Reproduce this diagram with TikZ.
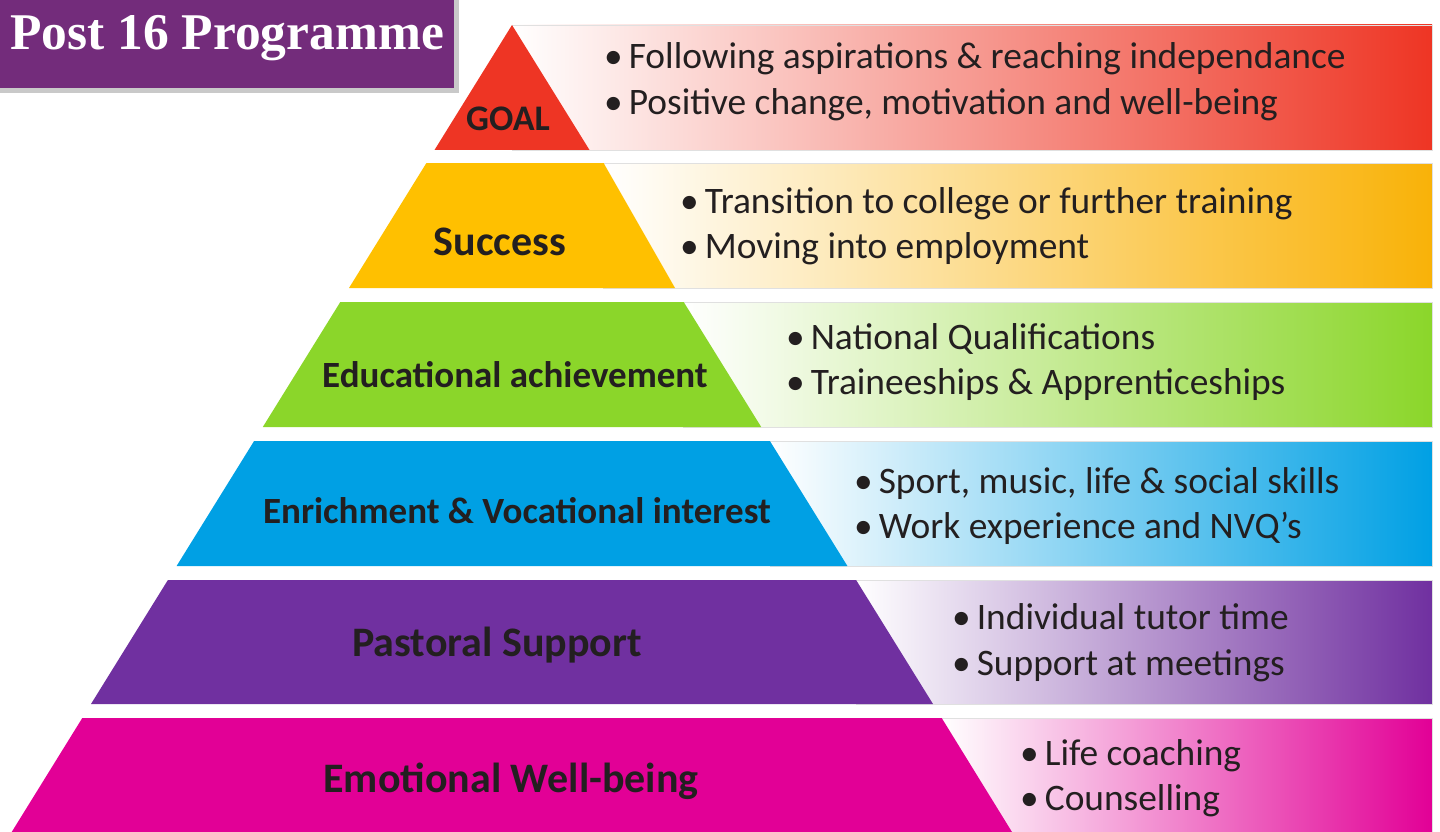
\documentclass[tikz,border=0pt]{standalone}
\usepackage{fontspec}
\setmainfont{Carlito}
\newfontfamily\titlefont{Liberation Serif}
\definecolor{goalred}{HTML}{EE3524}
\definecolor{succyellow}{HTML}{FFC000}
\definecolor{succamber}{HTML}{F9B208}
\definecolor{edugreen}{HTML}{8BD62A}
\definecolor{enrblue}{HTML}{00A0E4}
\definecolor{pastpurple}{HTML}{7030A0}
\definecolor{wellpink}{HTML}{E20096}
\definecolor{titlepurple}{HTML}{732C7B}
\definecolor{shadowgray}{HTML}{C9C9C9}
\definecolor{ink}{HTML}{231F20}
\begin{document}
\begin{tikzpicture}[x=1pt, y=-1pt,
  level/.style={font=\fontsize{#1}{#1}\selectfont\bfseries, text=ink, inner sep=0pt, anchor=base},
  item/.style={font=\fontsize{37.4}{46}\selectfont, text=ink, inner sep=0pt, anchor=base west},
  band/.style={draw=black!12, line width=0.6pt}]
\useasboundingbox (0,0) rectangle (1440,832);
% Titulo
\fill[shadowgray] (0,0) rectangle (459,93);
\fill[titlepurple] (0,0) rectangle (454,88);
\node [inner sep=0pt, anchor=base, text=white, font=\titlefont\fontsize{51.5}{52}\selectfont\bfseries] (title) at (227,50) {Post 16 Programme};
% ---
% GOAL
% ---
\shade[band, left color=white, middle color=goalred!70, right color=goalred] (512,25) rectangle (1432,150);
\fill[goalred] (512,25) -- (589.5,150) -- (434.5,150) -- cycle;
\node [level=36] (goal) at (508,131) {GOAL};
\node [item] (goalA) at (604,69) {•\hspace{6pt}Following aspirations \& reaching independance};
\node [item] (goalB) at (604,115) {•\hspace{6pt}Positive change, motivation and well-being};
% ---
% Success
% ---
\shade[band, left color=white, middle color=succyellow!70, right color=succamber] (603.6,163) rectangle (1432,288);
\fill[succyellow] (426.4,163) -- (603.6,163) -- (675,288) -- (349,288) -- cycle;
\node [level=42] (success) at (500,255) {Success};
\node [item] (successA) at (680,213) {•\hspace{6pt}Transition to college or further training};
\node [item] (successB) at (680,258) {•\hspace{6pt}Moving into employment};
% ---
% Educational achievement
% ---
\shade[band, left color=white, middle color=edugreen!70, right color=edugreen] (683.7,302) rectangle (1432,427);
\fill[edugreen] (340.3,302) -- (683.7,302) -- (761.2,427) -- (262.8,427) -- cycle;
\node [level=37] (achieve) at (515,387) {Educational achievement};
\node [item] (achieveA) at (786,349) {•\hspace{6pt}National Qualifications};
\node [item] (achieveB) at (786,394) {•\hspace{6pt}Traineeships \& Apprenticeships};
% ---
% Enrichment & Vocational interest
% ---
\shade[band, left color=white, middle color=enrblue!70, right color=enrblue] (769.9,441) rectangle (1432,566);
\fill[enrblue] (254.1,441) -- (769.9,441) -- (847.4,566) -- (176.6,566) -- cycle;
\node [level=37] (enrich) at (517,523) {Enrichment \& Vocational interest};
\node [item] (enrichA) at (854,493) {•\hspace{6pt}Sport, music, life \& social skills};
\node [item] (enrichB) at (854,538) {•\hspace{6pt}Work experience and NVQ’s};
% ---
% Pastoral Support
% ---
\shade[band, left color=white, middle color=pastpurple!70, right color=pastpurple] (856.1,580) rectangle (1432,704);
\fill[pastpurple] (167.9,580) -- (856.1,580) -- (933,704) -- (91,704) -- cycle;
\node [level=42] (pastoral) at (497,656) {Pastoral Support};
\node [item] (pastoralA) at (952,629) {•\hspace{6pt}Individual tutor time};
\node [item] (pastoralB) at (952,675) {•\hspace{6pt}Support at meetings};
% ---
% Emotional Well-being
% ---
\shade[band, left color=white, middle color=wellpink!70, right color=wellpink] (941.7,718) rectangle (1432,832);
\fill[wellpink] (82.3,718) -- (941.7,718) -- (1012,832) -- (11.7,832) -- cycle;
\node [level=42] (wellbeing) at (511,792) {Emotional Well-being};
\node [item] (wellbeingA) at (1020,765) {•\hspace{6pt}Life coaching};
\node [item] (wellbeingB) at (1020,810) {•\hspace{6pt}Counselling};
\end{tikzpicture}
\end{document}
